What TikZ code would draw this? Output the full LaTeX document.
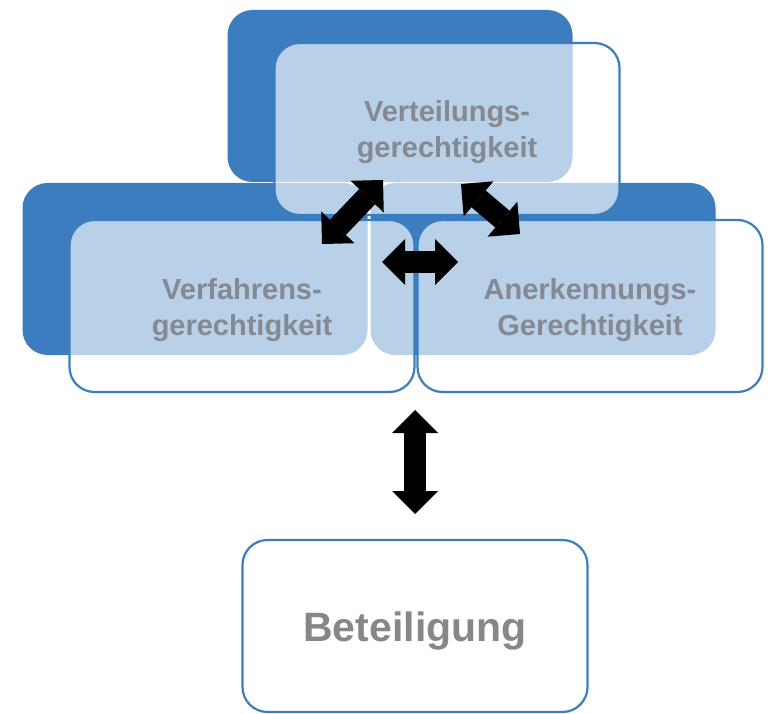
\documentclass[tikz,border=0pt]{standalone}
\usepackage{fontspec}
\setmainfont{Liberation Sans}
\usetikzlibrary{positioning,arrows.meta}
\definecolor{smartblue}{RGB}{60,125,192}
\definecolor{boxtext}{RGB}{133,137,145}
\definecolor{plaintext}{RGB}{135,135,135}

\begin{document}
\begin{tikzpicture}[x=1pt,y=-1pt,
	back/.style={fill=smartblue, rounded corners=25pt, minimum width=345pt, minimum height=172pt, inner sep=0pt},
	front/.style={draw=smartblue, line width=2.2pt, fill=white, fill opacity=0.64, text opacity=1, rounded corners=25pt, minimum width=345pt, minimum height=172pt, inner sep=0pt, align=center, text=boxtext, text height=58pt, text depth=0pt, font=\bfseries\fontsize{29}{36}\selectfont},
	blockarrow/.style={line width=22pt, >={Triangle[length=23pt,width=46pt,line width=0pt]}, <->}
	]
	\useasboundingbox (0,0) rectangle (771,714);
	
	% dark blocks behind
	\node[back] (vtback) at (400,96) {};
	\node[back] (vfback) at (195,269) {};
	\node[back] (anback) at (543,269) {};
	
	% light blocks in front
	\node[front] (vt) at ([shift={(47,33)}]vtback) {Verteilungs-\\gerechtigkeit};
	\node[front] (vf) at ([shift={(47,37)}]vfback) {Verfahrens-\\gerechtigkeit};
	\node[front] (an) at ([shift={(47,37)}]anback) {Anerkennungs-\\Gerechtigkeit};
	\node[front, fill opacity=1, text=plaintext, text height=30pt, font=\bfseries\fontsize{41}{49}\selectfont] (bt) at (415,626) {Beteiligung};
	
	\coordinate (vfa) at (322,244);
	\coordinate (vta) at (383,180);
	\coordinate (vtb) at (461,184);
	\coordinate (anb) at (520,234);
	\coordinate (vfc) at (382,262);
	\coordinate (anc) at (458,262);
	\coordinate (mid) at (415,410);
	\coordinate (btd) at (415,514);
	
	\path (vfa) edge[blockarrow] (vta)
	(vtb) edge[blockarrow] (anb)
	(vfc) edge[blockarrow] (anc)
	(mid) edge[blockarrow] (btd);
	
\end{tikzpicture}
\end{document}
